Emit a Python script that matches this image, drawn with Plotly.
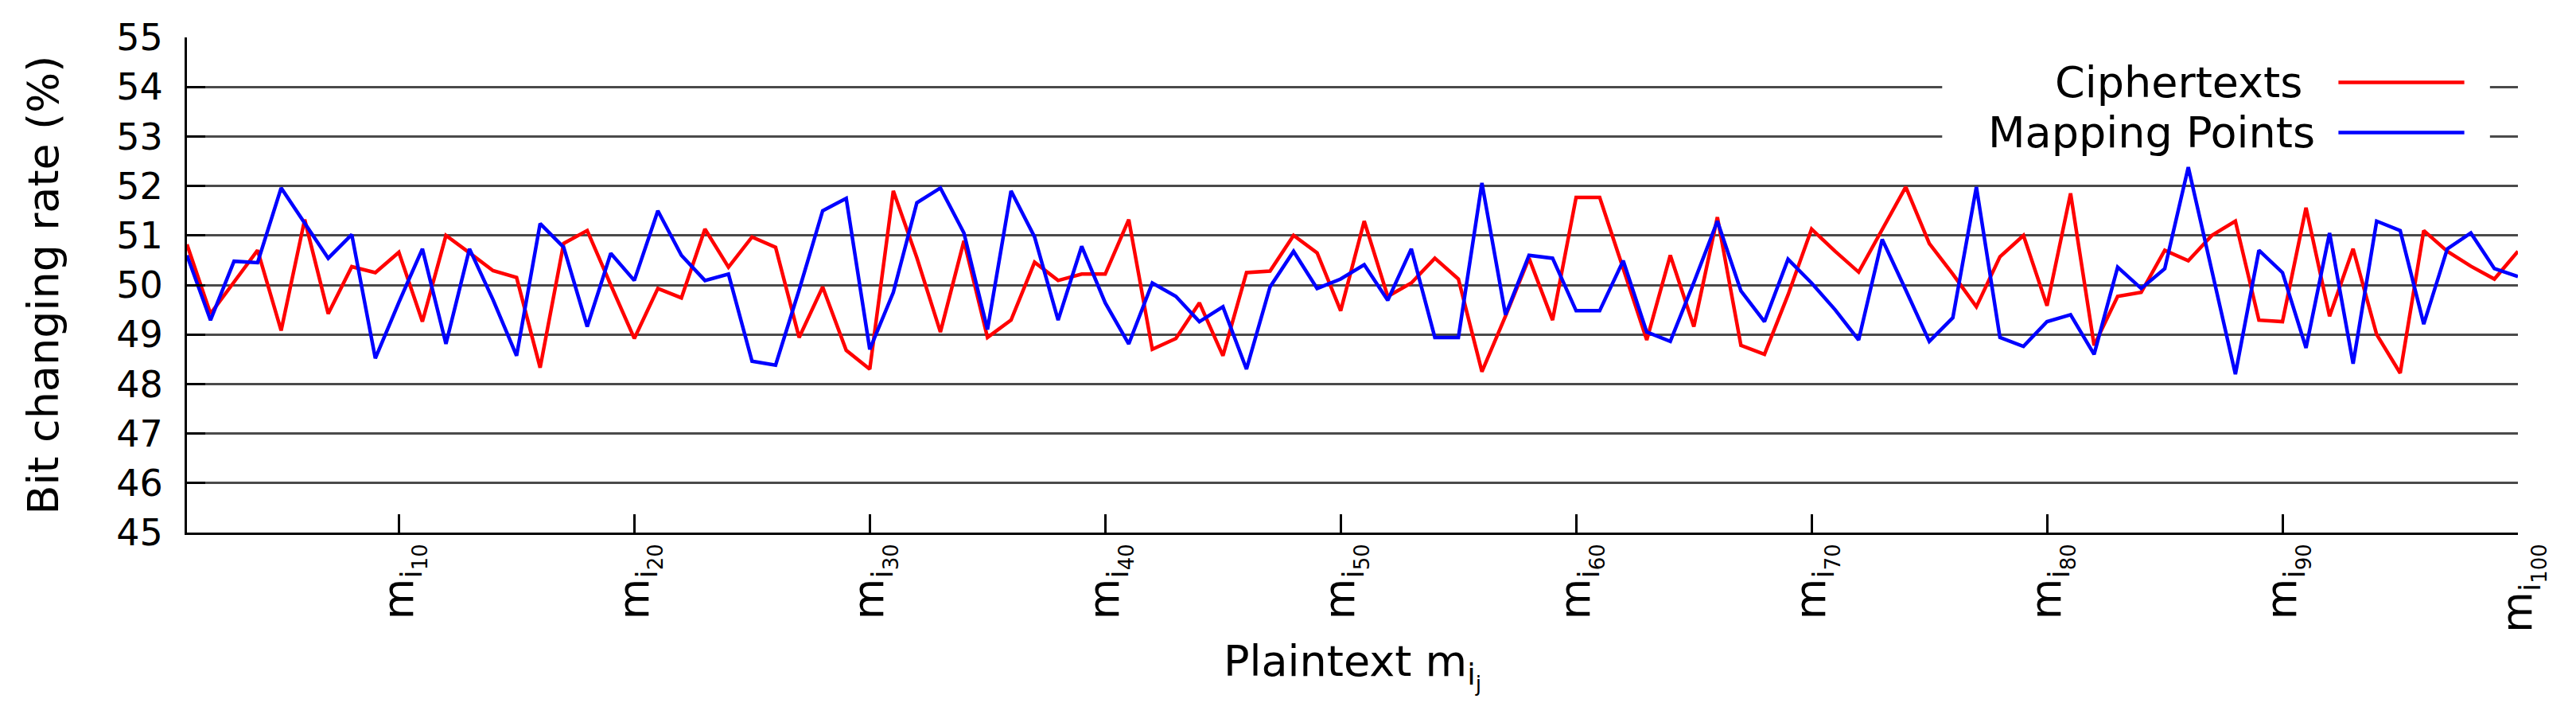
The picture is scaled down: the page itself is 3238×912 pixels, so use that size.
import plotly.graph_objects as go

# ---------------- data ----------------
plaintext_index = list(range(1, 101))

ciphertexts = [
    50.82, 49.42, 50.06, 50.70, 49.08, 51.32, 49.42, 50.37, 50.25, 50.66,
    49.26, 51.00, 50.65, 50.29, 50.15, 48.33, 50.84, 51.10, 50.00, 48.92,
    49.93, 49.74, 51.13, 50.36, 50.97, 50.76, 48.94, 49.96, 48.68, 48.30,
    51.90, 50.55, 49.05, 50.89, 48.94, 49.29, 50.46, 50.09, 50.22, 50.22,
    51.32, 48.70, 48.92, 49.64, 48.57, 50.25, 50.28, 51.00, 50.65, 49.48,
    51.29, 49.77, 50.04, 50.54, 50.12, 48.25, 49.37, 50.54, 49.29, 51.77,
    51.77, 50.33, 48.89, 50.60, 49.16, 51.37, 48.78, 48.60, 49.80, 51.13,
    50.68, 50.26, 51.13, 51.98, 50.84, 50.22, 49.56, 50.57, 51.00, 49.58,
    51.85, 48.78, 49.77, 49.85, 50.70, 50.49, 51.00, 51.29, 49.29, 49.26,
    51.56, 49.37, 50.73, 49.00, 48.22, 51.10, 50.68, 50.38, 50.12, 50.68,
]

mapping_points = [
    50.60, 49.29, 50.48, 50.45, 51.96, 51.25, 50.54, 51.02, 48.52, 49.65,
    50.73, 48.81, 50.73, 49.70, 48.57, 51.24, 50.76, 49.16, 50.64, 50.09,
    51.50, 50.60, 50.09, 50.22, 48.46, 48.38, 49.90, 51.50, 51.75, 48.70,
    49.85, 51.66, 51.96, 51.05, 49.10, 51.90, 50.97, 49.29, 50.78, 49.64,
    48.81, 50.04, 49.77, 49.26, 49.56, 48.30, 49.96, 50.68, 49.93, 50.12,
    50.41, 49.69, 50.73, 48.94, 48.94, 52.06, 49.40, 50.60, 50.54, 49.48,
    49.48, 50.49, 49.05, 48.86, 50.05, 51.29, 49.88, 49.26, 50.52, 50.04,
    49.50, 48.89, 50.92, 49.90, 48.86, 49.34, 51.98, 48.94, 48.76, 49.26,
    49.40, 48.60, 50.36, 49.93, 50.33, 52.38, 50.30, 48.20, 50.70, 50.25,
    48.73, 51.05, 48.41, 51.29, 51.10, 49.21, 50.73, 51.05, 50.33, 50.17,
]

x_tick_values = [10, 20, 30, 40, 50, 60, 70, 80, 90, 100]
x_tick_labels = ["m<sub>i<sub>%d</sub></sub>" % v for v in x_tick_values]

y_tick_values = [45, 46, 47, 48, 49, 50, 51, 52, 53, 54, 55]

series_names = ["Ciphertexts", "Mapping Points"]
series_colors = ["#ff0000", "#0000ff"]

FONT = "DejaVu Sans"

# ---------------- figure ----------------
fig = go.Figure()
for name, vals, col in zip(series_names, [ciphertexts, mapping_points], series_colors):
    fig.add_trace(go.Scatter(
        x=plaintext_index, y=vals, mode="lines", name=name,
        line=dict(color=col, width=4.5), showlegend=False,
    ))

fig.update_layout(
    width=3238, height=912,
    margin=dict(l=227, r=81, t=35, b=251),
    paper_bgcolor="white", plot_bgcolor="white",
    font=dict(family=FONT, color="black"),
)

fig.update_xaxes(
    range=[1, 100], tickmode="array", tickvals=x_tick_values, ticktext=x_tick_labels,
    tickangle=-90, ticks="inside", ticklen=23, tickwidth=3, tickcolor="black",
    showline=True, linecolor="black", linewidth=3, showgrid=False, zeroline=False,
    tickfont=dict(family=FONT, size=53, color="black"), ticklabelstandoff=-10,
    title=dict(text="Plaintext m<sub>i<sub>j</sub></sub>",
               font=dict(family=FONT, size=54, color="black"), standoff=18),
)

fig.update_yaxes(
    range=[45, 55], tickmode="array", tickvals=y_tick_values,
    ticks="inside", ticklen=23, tickwidth=3, tickcolor="black",
    showline=True, linecolor="black", linewidth=3,
    showgrid=True, gridcolor="#4a4a4a", gridwidth=2.5, zeroline=False,
    tickfont=dict(family=FONT, size=46, color="black"), ticklabelstandoff=18,
    title=dict(text="Bit changing rate (%)",
               font=dict(family=FONT, size=54, color="black"), standoff=56),
)

# legend (gnuplot style: opaque key, text then line sample)
legend_rows_y = [0.909, 0.808]
legend_text_x = [0.9082, 0.9137]
shapes = [dict(type="rect", xref="paper", yref="paper", x0=0.753, x1=0.988,
               y0=0.75, y1=0.97, fillcolor="white", line=dict(width=0), layer="above")]
annotations = []
for name, col, yy, xx in zip(series_names, series_colors, legend_rows_y, legend_text_x):
    shapes.append(dict(type="line", xref="paper", yref="paper", x0=0.923, x1=0.977,
                       y0=yy, y1=yy, line=dict(color=col, width=4.5), layer="above"))
    annotations.append(dict(text=name, xref="paper", yref="paper", x=xx, y=yy,
                            xanchor="right", yanchor="middle", showarrow=False,
                            font=dict(family=FONT, size=54, color="black")))
fig.update_layout(shapes=shapes, annotations=annotations)

fig.write_html("out.html")
